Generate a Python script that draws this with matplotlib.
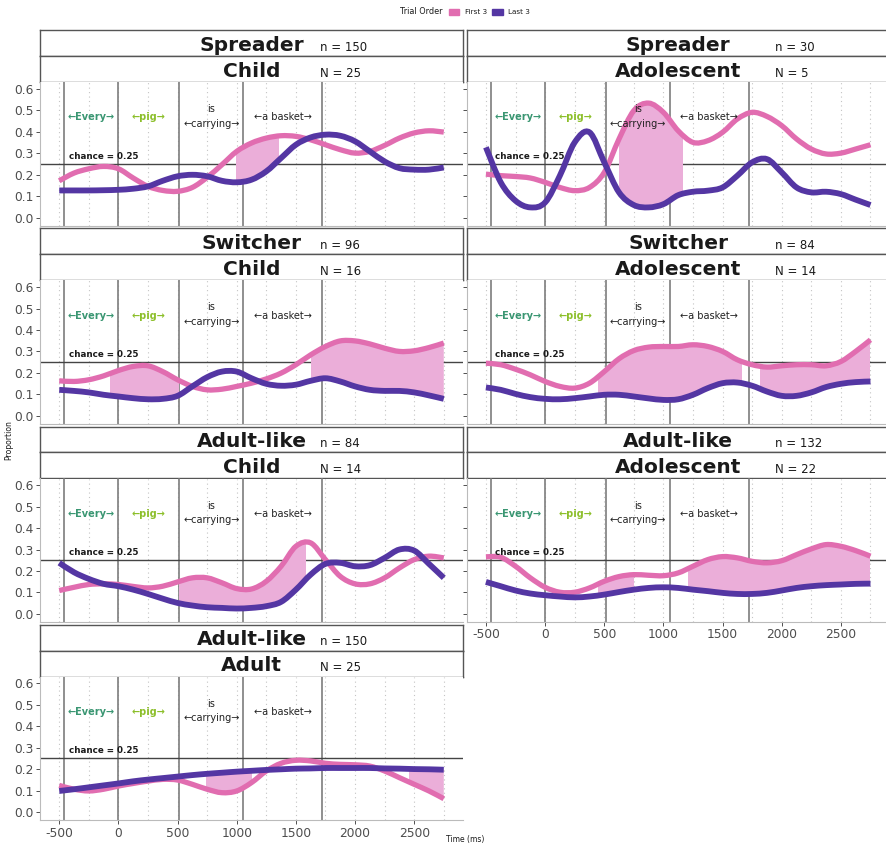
import numpy as np
import matplotlib
matplotlib.use("Agg")
import matplotlib.pyplot as plt
from matplotlib.patches import Rectangle, PathPatch
from matplotlib.path import Path

# time samples (ms) shared by every panel
time_ms = np.arange(-500, 2751, 125)

# word onsets (ms) and word labels
onsets = [-458, 0, 515, 1055, 1720]
words = ["\u2190Every\u2192", "\u2190pig\u2192", "is", "\u2190carrying\u2192", "\u2190a basket\u2192"]

# panel facet labels
group_names = ["Spreader", "Spreader", "Switcher", "Switcher", "Adult-like", "Adult-like", "Adult-like"]
group_n = ["n = 150", "n = 30", "n = 96", "n = 84", "n = 84", "n = 132", "n = 150"]
age_names = ["Child", "Adolescent", "Child", "Adolescent", "Child", "Adolescent", "Adult"]
age_n = ["N = 25", "N = 5", "N = 16", "N = 14", "N = 14", "N = 22", "N = 25"]

# proportion of looks, first 3 trials
first3 = [
    [.172, .208, .228, .239, .228, .185, .146, .127, .123, .141, .188, .247, .309, .348,
     .371, .382, .379, .363, .340, .317, .301, .309, .337, .371, .395, .405, .399],
    [.203, .196, .192, .185, .165, .141, .126, .141, .211, .367, .499, .534, .491, .405,
     .351, .359, .398, .460, .491, .472, .429, .367, .320, .297, .301, .320, .340],
    [.163, .160, .168, .186, .211, .230, .233, .206, .168, .137, .121, .124, .137, .152,
     .172, .199, .238, .284, .323, .349, .349, .335, .315, .300, .303, .318, .339],
    [.245, .238, .217, .191, .160, .137, .129, .152, .206, .266, .304, .320, .323, .323,
     .331, .323, .300, .261, .238, .227, .233, .238, .238, .233, .253, .300, .354],
    [.109, .124, .137, .140, .137, .128, .121, .129, .149, .168, .168, .145, .118, .116,
     .152, .222, .315, .331, .253, .175, .140, .140, .168, .214, .253, .269, .261],
    [.266, .264, .222, .168, .124, .101, .101, .121, .152, .174, .183, .180, .178, .191,
     .222, .253, .267, .261, .245, .238, .248, .276, .303, .323, .315, .295, .269],
    [.124, .106, .098, .106, .121, .133, .144, .152, .149, .129, .106, .090, .098, .137,
     .191, .227, .241, .238, .227, .222, .220, .214, .191, .160, .129, .098, .062],
]

# proportion of looks, last 3 trials
last3 = [
    [.127, .127, .127, .128, .130, .135, .146, .172, .193, .200, .193, .172, .165, .177,
     .216, .278, .340, .374, .387, .382, .356, .309, .262, .231, .224, .224, .234],
    [.328, .165, .079, .048, .071, .196, .351, .398, .258, .118, .059, .048, .063, .105,
     .121, .126, .141, .196, .258, .273, .211, .141, .118, .121, .110, .084, .059],
    [.121, .116, .109, .098, .090, .082, .077, .079, .093, .137, .180, .206, .206, .175,
     .149, .140, .145, .163, .175, .160, .137, .121, .116, .116, .109, .095, .079],
    [.132, .121, .102, .087, .079, .077, .082, .090, .098, .098, .090, .081, .074, .077,
     .098, .129, .152, .155, .140, .113, .093, .093, .109, .134, .149, .157, .160],
    [.238, .194, .163, .140, .129, .113, .093, .071, .051, .039, .031, .028, .025, .028,
     .036, .056, .113, .183, .233, .238, .222, .227, .261, .300, .295, .233, .168],
    [.149, .129, .109, .095, .087, .081, .077, .081, .090, .102, .113, .121, .124, .121,
     .113, .106, .098, .093, .093, .098, .109, .121, .129, .134, .137, .140, .141],
    [.098, .106, .115, .124, .133, .143, .151, .158, .165, .172, .178, .183, .188, .192,
     .196, .199, .202, .203, .205, .205, .205, .205, .203, .202, .200, .199, .197],
]

# significant clusters (ms) shaded between the two curves
clusters = [
    [(997, 1354)],
    [(628, 1163)],
    [(-68, 510), (1627, 2750)],
    [(445, 1661), (1819, 2750)],
    [(510, 1588)],
    [(445, 755), (1205, 2750)],
    [(740, 1129), (2452, 2750)],
]

# (row, col) of each panel
grid_pos = [(0, 0), (0, 1), (1, 0), (1, 1), (2, 0), (2, 1), (3, 0)]

PINK = "#E16DB0"
PURPLE = "#5436A3"
FILL = "#EBAED9"
W, H = 887, 846


def smooth_path(x, y):
    # Catmull-Rom style bezier through the read points (no extra data points)
    pts = np.column_stack([x, y])
    ext = np.vstack([pts[0], pts, pts[-1]])
    verts = [pts[0]]
    codes = [Path.MOVETO]
    for k in range(len(pts) - 1):
        p0, p1, p2, p3 = ext[k], ext[k + 1], ext[k + 2], ext[k + 3]
        verts += [p1 + (p2 - p0) / 6, p2 - (p3 - p1) / 6, p2]
        codes += [Path.CURVE4] * 3
    return verts, codes


def px_box(x0, top, w, h):
    return [x0 / W, 1 - (top + h) / H, w / W, h / H]


fig = plt.figure(figsize=(W / 100, H / 100), dpi=100)

col_x = [40, 466.7]
panel_w = 423

for i in range(7):
    r, c = grid_pos[i]
    top = 82.3 + 198.1 * r
    x0 = col_x[c]

    # facet strips
    for k, (big, small) in enumerate([(group_names[i], group_n[i]), (age_names[i], age_n[i])]):
        sax = fig.add_axes(px_box(x0, top - 52 + 26 * k, panel_w, 26))
        sax.set_xticks([]); sax.set_yticks([])
        for sp in sax.spines.values():
            sp.set_color("#555555"); sp.set_linewidth(1.0)
        sax.text(0.5, 0.2, big, ha="center", va="baseline", fontsize=14.5,
                 fontweight="bold", color="#1a1a1a", transform=sax.transAxes)
        sax.text(0.662 if c == 0 else 0.729, 0.2, small, ha="left", va="baseline",
                 fontsize=8.5, color="#1a1a1a", transform=sax.transAxes)

    ax = fig.add_axes(px_box(x0, top, panel_w, 143.7))
    ax.set_xlim(-662.5, 2912.5)
    ax.set_ylim(-0.0387, 0.631)
    for sp in ["top", "right"]:
        ax.spines[sp].set_visible(False)
    for sp in ["left", "bottom"]:
        ax.spines[sp].set_color("#bbbbbb"); ax.spines[sp].set_linewidth(0.8)

    for g in np.arange(-500, 2751, 250):
        ax.axvline(g, color="#c4c4c4", lw=0.8, ls=(0, (1, 3)), zorder=0)
    for o in onsets:
        ax.axvline(o, color="#7d7d7d", lw=1.2, zorder=1)
    ax.axhline(0.25, color="#444444", lw=1.0, zorder=1)

    p = np.array(first3[i]); q = np.array(last3[i])
    vp, cp = smooth_path(time_ms, p)
    vq, cq = smooth_path(time_ms[::-1], q[::-1])

    for s, e in clusters[i]:
        band = Path(vp + vq + [vp[0]], cp + [Path.LINETO] + cq[1:] + [Path.CLOSEPOLY])
        patch = PathPatch(band, facecolor=FILL, edgecolor="none", zorder=2)
        ax.add_patch(patch)
        patch.set_clip_path(Rectangle((s, -1), e - s, 3, transform=ax.transData))

    ax.add_patch(PathPatch(Path(vp, cp), fill=False, edgecolor=PINK, lw=3.8,
                           capstyle="butt", zorder=3))
    ax.add_patch(PathPatch(Path(vq, cq), fill=False, edgecolor=PURPLE, lw=4.2,
                           capstyle="butt", zorder=4))

    ax.text(-420, 0.265, "chance = 0.25", fontsize=6.3, fontweight="bold",
            color="#1a1a1a", va="bottom", ha="left", zorder=6)
    ax.text(-229, 0.467, words[0], fontsize=7, fontweight="bold", color="#3A9672",
            ha="center", va="center", zorder=6)
    ax.text(257, 0.467, words[1], fontsize=7, fontweight="bold", color="#8CBF2A",
            ha="center", va="center", zorder=6)
    ax.text(785, 0.505, words[2], fontsize=7, color="#222222",
            ha="center", va="center", zorder=6)
    ax.text(785, 0.438, words[3], fontsize=7, color="#222222",
            ha="center", va="center", zorder=6)
    ax.text(1387, 0.467, words[4], fontsize=7, color="#222222",
            ha="center", va="center", zorder=6)

    ax.set_yticks([0, 0.1, 0.2, 0.3, 0.4, 0.5, 0.6])
    ax.set_xticks([-500, 0, 500, 1000, 1500, 2000, 2500])
    ax.tick_params(length=3, width=0.6, color="#333333", labelcolor="#4d4d4d",
                   labelsize=8.8, pad=1.5)
    if c == 0:
        ax.set_yticklabels([f"{v:.1f}" for v in ax.get_yticks()])
    else:
        ax.set_yticklabels([])
    if (r, c) in [(3, 0), (2, 1)]:
        ax.set_xticklabels([str(v) for v in [-500, 0, 500, 1000, 1500, 2000, 2500]])
    else:
        ax.set_xticklabels([])
        ax.tick_params(axis="x", length=0)

fig.text(8.5 / W, 1 - 440 / H, "Proportion", rotation=90, fontsize=5.5,
         ha="center", va="center", color="#1a1a1a")
fig.text(465 / W, 1 - 839 / H, "Time (ms)", fontsize=5.5, ha="center",
         va="center", color="#1a1a1a")

# legend
fig.text(421 / W, 1 - 11.7 / H, "Trial Order", fontsize=5.9, ha="center",
         va="center", color="#1a1a1a")
fig.add_artist(Rectangle((449 / W, 1 - 15 / H), 10 / W, 6 / H, color=PINK,
                         transform=fig.transFigure))
fig.text(465 / W, 1 - 11.7 / H, "First 3", fontsize=5.2, ha="left",
         va="center", color="#1a1a1a")
fig.add_artist(Rectangle((492 / W, 1 - 15 / H), 11 / W, 6 / H, color=PURPLE,
                         transform=fig.transFigure))
fig.text(508 / W, 1 - 11.7 / H, "Last 3", fontsize=5.2, ha="left",
         va="center", color="#1a1a1a")

fig.savefig("out.png", dpi=100)
